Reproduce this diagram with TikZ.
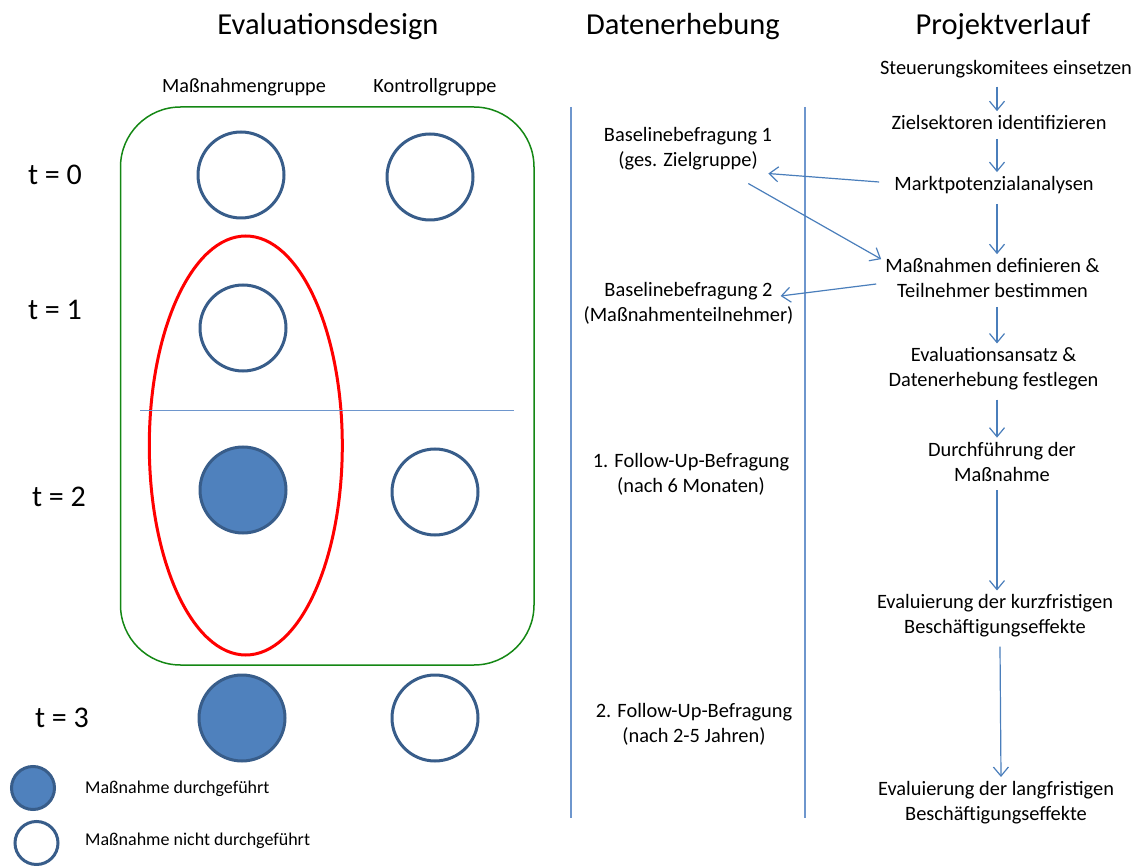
\documentclass[tikz,border=0pt]{standalone}
\usepackage{fontspec}
\setmainfont{Carlito}
\usetikzlibrary{arrows.meta}
\definecolor{circline}{RGB}{56,93,138}
\definecolor{circfill}{RGB}{79,129,189}
\definecolor{lineblue}{RGB}{74,126,187}
\definecolor{sepblue}{RGB}{110,150,205}
\definecolor{boxgreen}{RGB}{20,135,20}
\tikzset{
  titletxt/.style={font=\fontsize{30.5}{36}\selectfont, inner sep=0pt},
  txt/.style={font=\fontsize{20.4}{25}\selectfont, align=center, inner sep=4pt},
  hdr/.style={font=\fontsize{20.2}{25}\selectfont, inner sep=0pt},
  tlabel/.style={font=\fontsize{30}{36}\selectfont, inner sep=0pt},
  legtxt/.style={font=\fontsize{18}{22}\selectfont, anchor=west, inner sep=0pt},
  opencirc/.style={circle, draw=circline, line width=3pt, fill=white, minimum size=86pt, inner sep=0pt},
  fillcirc/.style={circle, draw=circline, line width=3pt, fill=circfill, minimum size=86pt, inner sep=0pt},
  legopen/.style={opencirc, minimum size=43pt},
  legfill/.style={fillcirc, minimum size=43pt},
  arr/.style={draw=lineblue, line width=1.2pt, -{Straight Barb[length=9pt,width=15pt,line width=1.2pt]}},
  sepline/.style={draw=sepblue, line width=2pt},
}
\begin{document}
\begin{tikzpicture}[x=1pt,y=-1pt]
\useasboundingbox (0,0) rectangle (1138,866);

% titles
\node[titletxt] (tEval) at (328,27) {Evaluationsdesign};
\node[titletxt] (tDat) at (683,27) {Datenerhebung};
\node[titletxt] (tProj) at (1003,27) {Projektverlauf};

% column headers
\node[hdr] (hMG) at (244,87) {Maßnahmengruppe};
\node[hdr] (hKG) at (435,87) {Kontrollgruppe};

% green frame
\draw[boxgreen, line width=1.5pt, rounded corners=60pt] (120.5,107) rectangle (534,665);

% time labels
\node[tlabel] (t0) at (55,175) {t = 0};
\node[tlabel] (t1) at (55,310) {t = 1};
\node[tlabel] (t2) at (59,497) {t = 2};
\node[tlabel] (t3) at (62,718) {t = 3};

% circles
\node[opencirc] (m0) at (241,175) {};
\node[opencirc] (k0) at (430,177) {};
\node[opencirc] (m1) at (243,328) {};
\node[fillcirc] (m2) at (243,490) {};
\node[opencirc] (k2) at (435,492) {};
\node[fillcirc] (m3) at (242,718) {};
\node[opencirc] (k3) at (435,718) {};

% red ellipse and separator
\draw[red, line width=3pt] (245.8,445.5) ellipse [x radius=96.5, y radius=209.5];
\draw[sepblue, line width=1.5pt] (140,410.5) -- (514,410.5);

% legend
\node[legfill] (lf) at (33,788) {};
\node[legopen] (lo) at (36.5,843) {};
\node[legtxt] (lft) at (85,789) {Maßnahme durchgeführt};
\node[legtxt] (lot) at (85,841) {Maßnahme nicht durchgeführt};

% vertical separators
\draw[sepline] (571,107) -- (571,818);
\draw[sepline] (805,107) -- (805,818);

% Datenerhebung
\node[txt] (b1) at (688,149) {Baselinebefragung 1\\(ges. Zielgruppe)};
\node[txt] (b2) at (688.5,303.5) {Baselinebefragung 2\\(Maßnahmenteilnehmer)};
\node[txt] (f1) at (691,474) {1. Follow-Up-Befragung\\(nach 6 Monaten)};
\node[txt] (f2) at (694,724) {2. Follow-Up-Befragung\\(nach 2-5 Jahren)};

% Projektverlauf
\node[txt] (p1) at (1006,69.5) {Steuerungskomitees einsetzen};
\node[txt] (p2) at (999,122.5) {Zielsektoren identifizieren};
\node[txt] (p3) at (994,185) {Marktpotenzialanalysen};
\node[txt] (p4) at (992.5,278) {Maßnahmen definieren \&\\Teilnehmer bestimmen};
\node[txt] (p5) at (993.5,369) {Evaluationsansatz \&\\Datenerhebung festlegen};
\node[txt] (p6) at (1002,461.5) {Durchführung der\\Maßnahme};
\node[txt] (p7) at (995,616) {Evaluierung der kurzfristigen\\Beschäftigungseffekte};
\node[txt] (p8) at (996,802.5) {Evaluierung der langfristigen\\Beschäftigungseffekte};

\coordinate (ax) at (997,0);
\coordinate (bx) at (1000,0);

\draw[arr] ([yshift=-4pt]p1.south -| ax) -- ([yshift=0pt]p2.north -| ax);
\draw[arr] ([yshift=-5pt]p2.south -| ax) -- (p3.north -| ax);
\draw[arr] ([yshift=-6pt]p3.south -| ax) -- (p4.north -| ax);
\draw[arr] ([yshift=-5pt]p4.south -| ax) -- (p5.north -| ax);
\draw[arr] ([yshift=-5pt]p5.south -| ax) -- (p6.north -| ax);
\draw[arr] ([yshift=-5pt]p6.south -| ax) -- (p7.north -| ax);
\draw[arr] ([yshift=-5pt]p7.south -| bx) -- ([xshift=1pt]p8.north -| bx);

\draw[arr] ([xshift=-11pt,yshift=3pt]p3.west) -- ([xshift=-8pt,yshift=1pt]b1.south east);
\draw[arr] ([xshift=-28pt,yshift=-9pt]b1.south east) -- ([yshift=-5pt]p4.north west);
\draw[arr] ([xshift=-5pt,yshift=-6pt]p4.west) -- ([xshift=-17pt,yshift=7.5pt]b2.east);
\end{tikzpicture}
\end{document}
